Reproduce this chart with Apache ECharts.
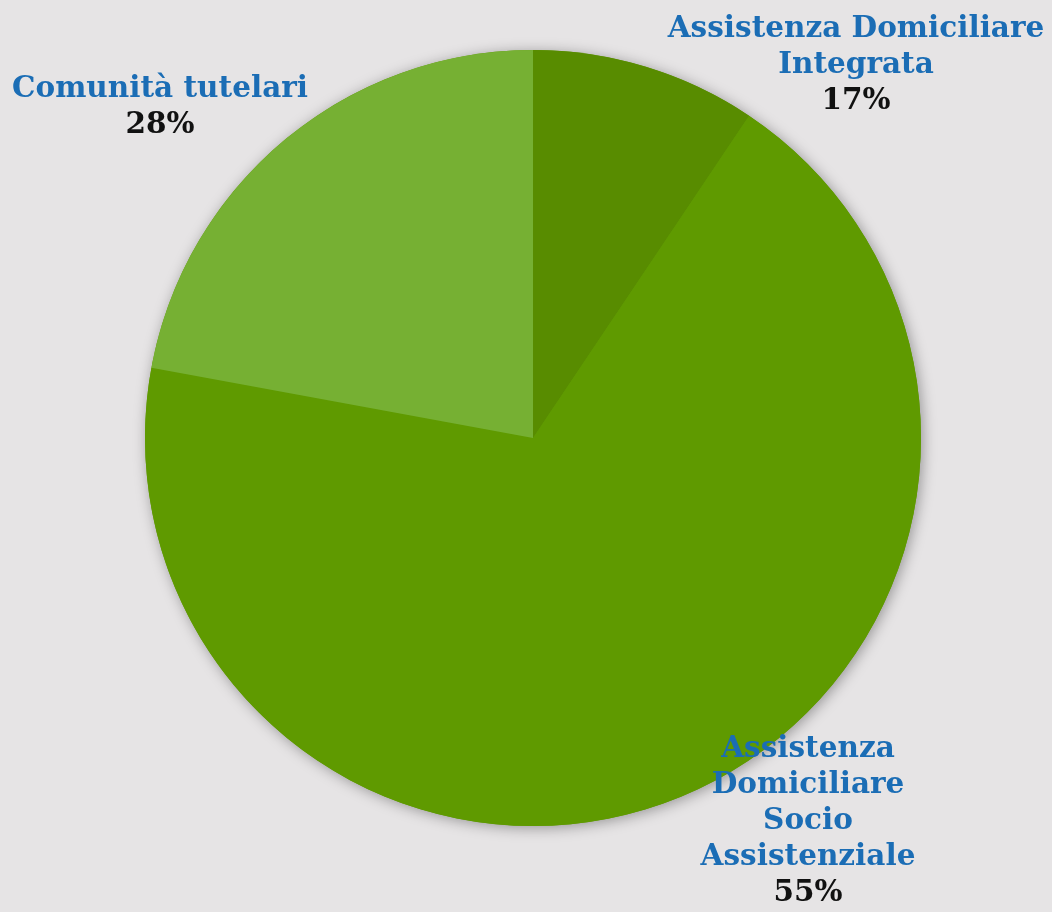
<!DOCTYPE html>
<html>
<head>
<meta charset="utf-8">
<script src="https://cdn.jsdelivr.net/npm/echarts@6/dist/echarts.min.js"></script>
<style>
  html, body { margin: 0; padding: 0; background: #e6e4e5; }
  #pie_chart { width: 1052px; height: 912px; }
</style>
</head>
<body>
<div id="pie_chart"></div>
<script>
// slice names (clockwise from 12 o'clock)
const names = [
  "Assistenza Domiciliare\nIntegrata",
  "Assistenza\nDomiciliare\nSocio\nAssistenziale",
  "Comunità tutelari",
];
// slice sizes as drawn in the picture
const values = [9.4, 68.5, 22.1];
// percentages printed in the labels
const percentLabels = ["17%", "55%", "28%"];
const colors = ["#588c00", "#5f9a00", "#76b033"];

// label anchor points (centre of text block)
const labelPos = [
  { x: 856, y: 65 },
  { x: 808, y: 821 },
  { x: 160, y: 107 },
];

let myCharts = echarts.init(document.getElementById("pie_chart"));

let textBase = {
  fontFamily: "DejaVu Serif",
  fontWeight: "bold",
  fontSize: 29.5,
  lineHeight: 36,
  align: "center",
};

let option = {
  backgroundColor: "#e6e4e5",
  series: [
    // shadow disc under the whole pie
    {
      type: "pie",
      center: [533, 438],
      radius: 388,
      silent: true,
      z: 1,
      label: { show: false },
      labelLine: { show: false },
      data: [
        {
          value: 1,
          itemStyle: {
            color: "#5f9a00",
            shadowBlur: 14,
            shadowColor: "rgba(0,0,0,0.35)",
            shadowOffsetX: 2,
            shadowOffsetY: 2,
          },
        },
      ],
    },
    {
      type: "pie",
      center: [533, 438],
      radius: 388,
      startAngle: 90,
      clockwise: true,
      silent: true,
      z: 2,
      data: names.map((n, i) => ({
        name: n,
        value: values[i],
        itemStyle: { color: colors[i] },
      })),
      labelLine: { show: false },
      label: {
        show: true,
        position: "outside",
        overflow: "none",
        bleedMargin: 0,
        align: "center",
        formatter: (p) => {
          let lines = names[p.dataIndex].split("\n").map((l) => "{n|" + l + "}");
          return lines.join("\n") + "\n{p|" + percentLabels[p.dataIndex] + "}";
        },
        rich: {
          n: Object.assign({ color: "#1b6db5" }, textBase),
          p: Object.assign({ color: "#111" }, textBase),
        },
      },
      labelLayout: (params) => {
        const pos = labelPos[params.dataIndex];
        return {
          x: pos.x,
          y: pos.y,
          align: "center",
          verticalAlign: "middle",
        };
      },
    },
  ],
};

myCharts.setOption(option);
</script>
</body>
</html>
